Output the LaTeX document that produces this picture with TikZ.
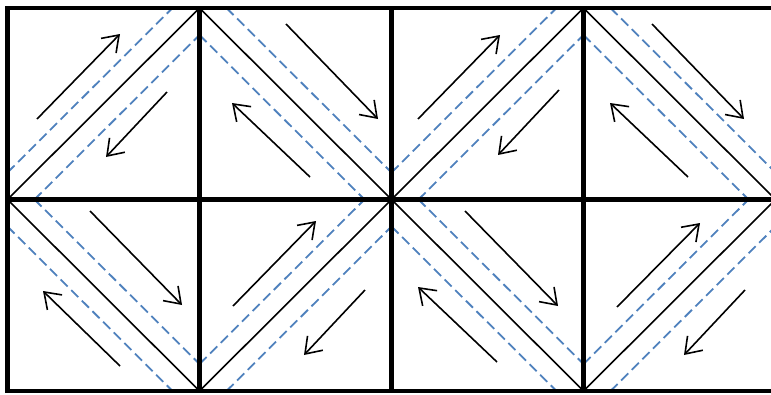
\documentclass[tikz,border=0pt]{standalone}
\usetikzlibrary{arrows.meta}
\definecolor{dashblue}{RGB}{79,129,189}
\begin{document}
\begin{tikzpicture}[x=1pt,y=-1pt,
  gridline/.style={line width=4.5pt, line cap=rect, line join=miter},
  diag/.style={line width=1.6pt},
  guide/.style={dashblue, line width=1.8pt, dash pattern=on 10pt off 5pt},
  flow/.style={line width=1.6pt, -{Straight Barb[length=15pt,width=21pt,line width=1.6pt]}}]
\useasboundingbox (0,0) rectangle (771,394);
\clip (0,0) rectangle (771,394);
\def\dd{27}
% rising cells "/"
\foreach \xa/\ya in {7.5/8, 391.5/8, 199.5/199.5, 583.5/199.5}{
  \draw[diag] (\xa,{\ya+191.5}) -- ({\xa+192},\ya);
  \draw[guide] (\xa,{\ya+191.5-\dd}) -- ({\xa+192-\dd},\ya);
  \draw[guide] ({\xa+\dd},{\ya+191.5}) -- ({\xa+192},{\ya+\dd});
}
% falling cells "\"
\foreach \xa/\ya in {199.5/8, 583.5/8, 7.5/199.5, 391.5/199.5}{
  \draw[diag] (\xa,\ya) -- ({\xa+192},{\ya+191.5});
  \draw[guide] ({\xa+\dd},\ya) -- ({\xa+192},{\ya+191.5-\dd});
  \draw[guide] (\xa,{\ya+\dd}) -- ({\xa+192-\dd},{\ya+191.5});
}
% flow arrows
\foreach \ax/\ay/\bx/\by in {
  37/119/120/34, 167/92/106/157,
  286/24/378/119, 310/177/232/103,
  418/119/500/35, 559/90/498/155,
  652/24/744/119, 688/177/610/103,
  90/211/182/305, 120/366/43/291,
  233/306/316/221, 365/290/304/355,
  465/211/558/306, 497/362/418/287,
  617/307/700/223, 745/290/684/355}{
  \draw[flow] (\ax,\ay) -- (\bx,\by);
}
% grid
\draw[gridline] (7.5,8) -- (790,8);
\draw[gridline] (7.5,199.5) -- (790,199.5);
\draw[gridline] (7.5,391) -- (790,391);
\foreach \gx in {7.5,199.5,391.5,583.5}{
  \draw[gridline] (\gx,8) -- (\gx,391);
}
\end{tikzpicture}
\end{document}
